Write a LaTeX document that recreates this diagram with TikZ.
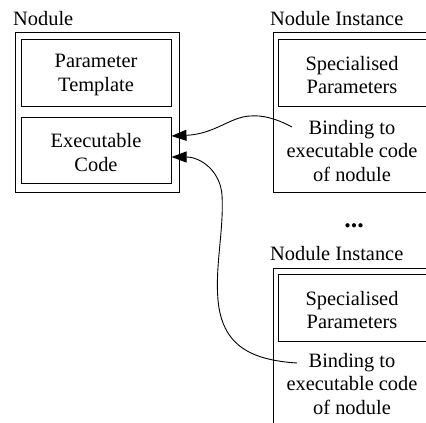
\documentclass[tikz,border=0pt]{standalone}
\usepackage{fontspec}
\setmainfont{Liberation Serif}
\usetikzlibrary{arrows.meta}
\begin{document}
\begin{tikzpicture}[x=1pt,y=-1pt,
  every node/.style={font=\fontsize{20.4}{23.3}\selectfont, inner sep=0pt},
  frame/.style={draw, line width=1pt, minimum width=#1},
  box/.style={draw, line width=1pt, minimum width=#1},
  lbl/.style={anchor=base west},
  txt/.style={align=center},
  link/.style={line width=0.9pt, -{Triangle[length=15pt,width=11pt]}}]
\useasboundingbox (0,0) rectangle (426,423);
\clip (0,0) rectangle (426,423);

% the nodule: template and code
\node[lbl] (nodlbl) at (13,25) {Nodule};
\node[frame=164pt, minimum height=160pt] (nodule) at (97,112) {};
\node[box=150pt, minimum height=67pt] (tmpl) at (96,72.5) {};
\node[txt] (tmpltxt) at ([yshift=-2.5pt]tmpl.center) {Parameter\\Template};
\node[box=150pt, minimum height=66pt] (exec) at (96,150) {};
\node[txt] (exectxt) at ([yshift=-2.5pt]exec.center) {Executable\\Code};

% first instance
\node[lbl] (i1lbl) at (270,25) {Nodule Instance};
\node[frame=164pt, minimum height=160pt] (inst1) at (355,112) {};
\node[box=154pt, minimum height=67pt] (spec1) at (355,72.5) {};
\node[txt] (spec1txt) at ([shift={(-3pt,-2.5pt)}]spec1.center) {Specialised\\Parameters};
\node[txt] (bind1) at (352,151) {Binding to\\executable code\\of nodule};

\node[font=\fontsize{26}{26}\selectfont\bfseries] (dots) at (354,226) {...};

% second instance
\node[lbl] (i2lbl) at (270,260) {Nodule Instance};
\node[frame=164pt, minimum height=162pt] (inst2) at (355,349) {};
\node[box=154pt, minimum height=67pt] (spec2) at (355,307.5) {};
\node[txt] (spec2txt) at ([shift={(-3pt,-2.5pt)}]spec2.center) {Specialised\\Parameters};
\node[txt] (bind2) at (352,384) {Binding to\\executable code\\of nodule};

% bindings back to the executable code
\coordinate (from1) at (292,127);
\coordinate (from2) at (297,363);
\draw[link] (from1) .. controls (275,118) and (262,115) .. (250,116)
  .. controls (230,117) and (215,134) .. ([yshift=14pt]exec.east);
\draw[link] (from2) .. controls (250,360) and (222,345) .. (218,300)
  .. controls (215,265) and (224,230) .. (222,195)
  .. controls (220,170) and (200,157) .. ([yshift=-7pt]exec.east);
\end{tikzpicture}
\end{document}
